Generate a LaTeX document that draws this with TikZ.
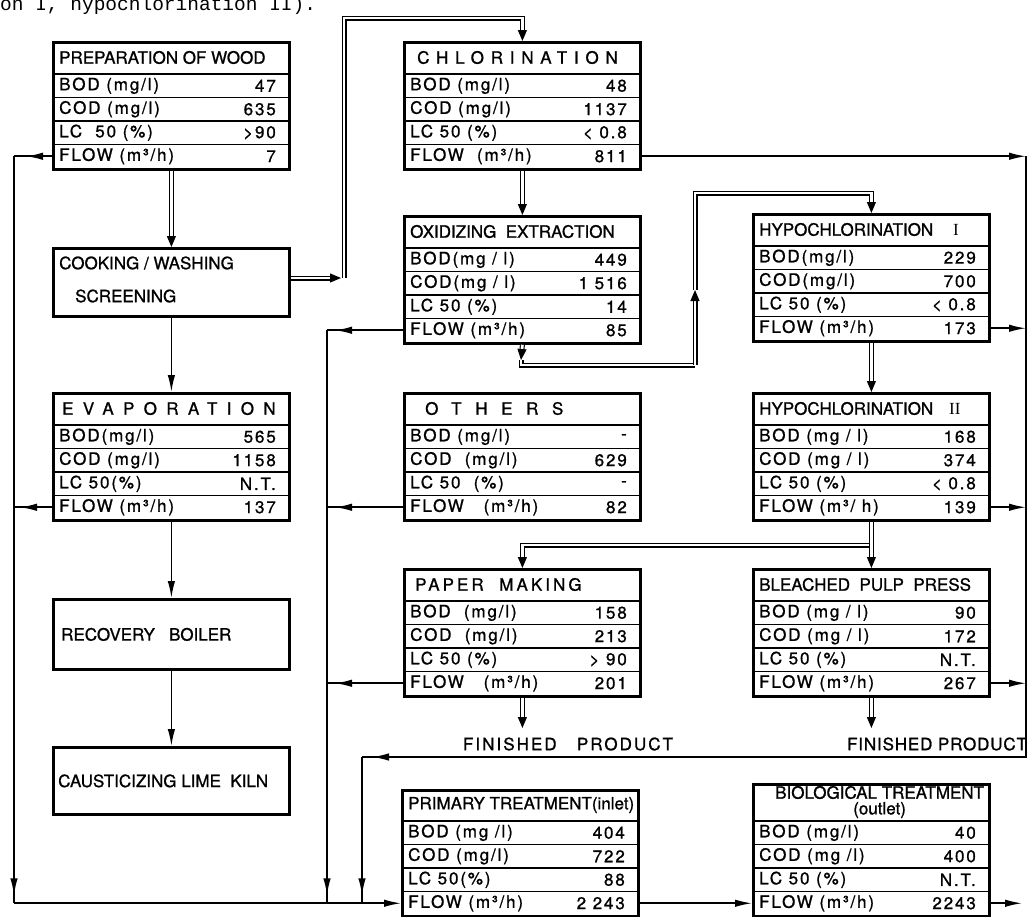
\documentclass[tikz,border=0pt]{standalone}
\usepackage{fontspec}
\setmainfont{TeX Gyre Heros}
\newfontfamily\capfont{Liberation Mono}
\newfontfamily\romfont{Liberation Serif}
\usetikzlibrary{arrows.meta,decorations.markings}

\newcommand{\spaced}[2]{{\addfontfeature{LetterSpace=#1}#2}}

\tikzset{
  boxframe/.style={draw, line width=2.8pt, minimum width=236pt, inner sep=0pt},
  rowline/.style={line width=1.2pt},
  boxtext/.style={inner sep=0pt, font=\fontsize{17}{15}\selectfont\addfontfeature{FakeBold=1}},
  rowtext/.style={inner sep=0pt, font=\fontsize{17}{18}\selectfont\addfontfeature{LetterSpace=11,FakeBold=1}},
  flow/.style={line width=1.6pt},
  arrowend/.style={-{Latex[length=17pt,width=7.5pt]}},
  tipat/.style={postaction={decorate}, decoration={markings,
      mark=at position #1 with {\arrow{Latex[length=17pt,width=7.5pt]}}}},
  pipe/.style={double, double distance=2.8pt, line width=1.1pt,
      -{Triangle[length=11pt,width=9pt]}},
}

% table box: [title height]{name}{top left}{title}{label/value rows}
\newcommand{\databox}[5][33]{%
  \node[boxframe, minimum height=#1pt+94pt, anchor=north west] (#2) at (#3) {};
  \node[boxtext, anchor=west] (#2-t) at ([xshift=7pt, yshift=-#1pt/2]#2.north west) {#4};
  \draw[rowline] ([yshift=-#1pt]#2.north west) -- ([yshift=-#1pt]#2.north east);
  \foreach \lab/\val [count=\i] in {#5} {
    \coordinate (#2-c\i) at ([yshift=-#1pt-\i*23.5pt+11.75pt]#2.north west);
    \node[rowtext, anchor=west] (#2-r\i) at ([xshift=7pt]#2-c\i) {\lab};
    \node[rowtext, anchor=east] (#2-v\i) at ([xshift=224pt]#2-c\i) {\val};
    \ifnum\i<4 \draw[rowline] ([yshift=-11.75pt]#2-c\i) -- ++(236pt,0); \fi
  }
}

\begin{document}
\begin{tikzpicture}[x=1pt, y=-1pt]
  \useasboundingbox (0,0) rectangle (1030,916);
  \node[anchor=base west, inner sep=0pt, font=\capfont\fontsize{19.5}{20}\selectfont] (caption) at (0,10) {on I, hypochlorination II).};

  % left column
  \databox{prep}{52,41}{PREPARATION OF WOOD}{{BOD (mg/l)}/47,{COD (mg/l)}/635,{LC\ \ 50 (\%)}/>90,{FLOW (m³/h)}/7}
  \node[boxframe, minimum height=68pt, anchor=north west] (cook) at (52,247) {};
  \node[boxtext, anchor=west] (cook-t1) at ([xshift=7pt, yshift=-16pt]cook.north west) {COOKING / WASHING};
  \node[boxtext, anchor=west] (cook-t2) at ([xshift=23pt, yshift=-49pt]cook.north west) {SCREENING};
  \databox{evap}{52,392}{\hspace{3pt}\spaced{55}{EVAPORATION}}{{BOD(mg/l)}/565,{COD (mg/l)}/1158,{LC 50(\%)}/N.T.,{FLOW (m³/h)}/137}
  \node[boxframe, minimum height=70pt, anchor=north west] (recov) at (52,598) {};
  \node[boxtext, anchor=west] (recov-t) at ([xshift=9pt]recov.west) {RECOVERY\ \ \ BOILER};
  \node[boxframe, minimum height=67pt, anchor=north west] (caust) at (52,746) {};
  \node[boxtext, anchor=west] (caust-t) at ([xshift=6pt]caust.west) {CAUSTICIZING LIME\ \ KILN};

  % middle column
  \databox{chlor}{403,41}{\hspace{7pt}\spaced{40}{CHLORINATION}}{{BOD (mg/l)}/48,{COD (mg/l)}/1137,{LC\ 50 (\%)}/< 0.8,{FLOW\ \ (m³/h)}/811}
  \databox{oxid}{403,215}{OXIDIZING\ \ EXTRACTION}{{BOD(mg / l)}/449,{COD(mg / l)}/1 516,{LC\ 50 (\%)}/14,{FLOW (m³/h)}/85}
  \databox{others}{403,392}{\hspace{15pt}\spaced{80}{OTHERS}}{{BOD (mg/l)}/-,{COD\ \ (mg/l)}/629,{LC 50\ \ (\%)}/-,{FLOW\ \ \ (m³/h)}/82}
  \databox{paper}{403,568}{\hspace{5pt}\spaced{18}{PAPER\ \ MAKING}}{{BOD\ \ (mg/l)}/158,{COD\ \ (mg/l)}/213,{LC 50 (\%)}/> 90,{FLOW\ \ \ (m³/h)}/201}
  \databox[32]{prim}{401,789}{PRIMARY TREATMENT(inlet)}{{BOD (mg /l)}/404,{COD (mg/l)}/722,{LC 50(\%)}/88,{FLOW (m³/h)}/2 243}

  % right column
  \databox{hypo1}{752,213}{HYPOCHLORINATION\hspace{20pt}{\romfont I}}{{BOD(mg/l)}/229,{COD(mg/l)}/700,{LC 50 (\%)}/< 0.8,{FLOW (m³/h)}/173}
  \databox{hypo2}{752,392}{HYPOCHLORINATION\hspace{16pt}{\romfont II}}{{BOD (mg / l)}/168,{COD (mg / l)}/374,{LC 50 (\%)}/< 0.8,{FLOW (m³/ h)}/139}
  \databox{bleach}{752,568}{BLEACHED\ \ PULP\ \ PRESS}{{BOD (mg / l)}/90,{COD (mg / l)}/172,{LC 50 (\%)}/N.T.,{FLOW (m³/h)}/267}
  \databox[38]{bio}{752,783}{\hspace{16pt}\shortstack{BIOLOGICAL TREATMENT\\(outlet)}}{{BOD (mg/l)}/40,{COD (mg /l)}/400,{LC 50 (\%)}/N.T.,{FLOW (m³/h)}/2243}

  \node[boxtext] (fin1) at (568,744) {\spaced{12}{FINISHED\ \ \ PRODUCT}};
  \node[boxtext] (fin2) at (937,744) {\spaced{5}{FINISHED PRODUCT}};

  % buses and bends
  \coordinate (busL) at (14,0);
  \coordinate (busM) at (327,0);
  \coordinate (busN) at (362,0);
  \coordinate (busR) at (1026,0);
  \coordinate (finY) at (0,757);
  \coordinate (outR) at (1022,0);
  \coordinate (riseA) at (344,278);
  \coordinate (riseB) at (344,18);
  \coordinate (loopA0) at (521,360);
  \coordinate (loopA) at (695,365);
  \coordinate (loopM) at (695,290);
  \coordinate (loopB) at (695,193);
  \coordinate (splitP) at (868.5,545);
  \coordinate (doneY) at (0,728);

  % effluent lines
  \draw[flow, tipat=-12pt] (prep.west |- prep-c4) -- (busL |- prep-c4);
  \draw[flow, tipat=-6pt] (evap.west |- evap-c4) -- (busL |- evap-c4);
  \draw[flow, tipat=-8pt] (busL |- prep-c4) -- (busL |- prim-c4);
  \draw[flow, arrowend] (busL |- prim-c4) -- (prim.west |- prim-c4);
  \draw[flow, arrowend] (cook.south) -- (evap.north);
  \draw[flow, arrowend] (evap.south) -- (recov.north);
  \draw[flow, arrowend] (recov.south) -- (caust.north);

  \draw[flow, tipat=-8pt] (oxid.west |- oxid-c4) -- (busM |- oxid-c4);
  \draw[flow, tipat=-8pt] (others.west |- others-c4) -- (busM |- others-c4);
  \draw[flow, tipat=-8pt] (paper.west |- paper-c4) -- (busM |- paper-c4);
  \draw[flow, tipat=-8pt] (busM |- oxid-c4) -- (busM |- prim-c4);

  \draw[flow, arrowend] (chlor.east |- chlor-c4) -- (busR |- chlor-c4);
  \draw[flow, arrowend] (hypo1.east |- hypo1-c4) -- (busR |- hypo1-c4);
  \draw[flow, arrowend] (hypo2.east |- hypo2-c4) -- (busR |- hypo2-c4);
  \draw[flow, arrowend] (bleach.east |- bleach-c4) -- (busR |- bleach-c4);
  \draw[flow, tipat=-10pt] (busR |- chlor-c4) -- (busR |- finY) -- (busN |- finY);
  \draw[flow, tipat=-8pt] (busN |- finY) -- (busN |- prim-c4);
  \draw[flow, arrowend] (prim.east |- prim-c4) -- (bio.west |- bio-c4);
  \draw[flow, arrowend] (bio.east |- bio-c4) -- (outR |- bio-c4);

  % pulp lines
  \draw[pipe] (prep.south) -- (cook.north);
  \draw[pipe, shorten >=3pt] (cook.east |- riseA) -- (riseA);
  \draw[pipe] (riseA) -- (riseB) -| (chlor.north);
  \draw[pipe] (chlor.south) -- (oxid.north);
  \draw[pipe] (oxid.south) -- (loopA0);
  \draw[pipe, -] (loopA0) |- (loopA);
  \draw[pipe] (loopA) -- (loopM);
  \draw[pipe] (loopM) -- (loopB) -| (hypo1.north);
  \draw[pipe] (hypo1.south) -- (hypo2.north);
  \draw[pipe] (hypo2.south) -- (bleach.north);
  \draw[pipe] (splitP) -| (paper.north);
  \draw[pipe] (paper.south) -- (paper.south |- doneY);
  \draw[pipe] (bleach.south) -- (bleach.south |- doneY);
\end{tikzpicture}
\end{document}
